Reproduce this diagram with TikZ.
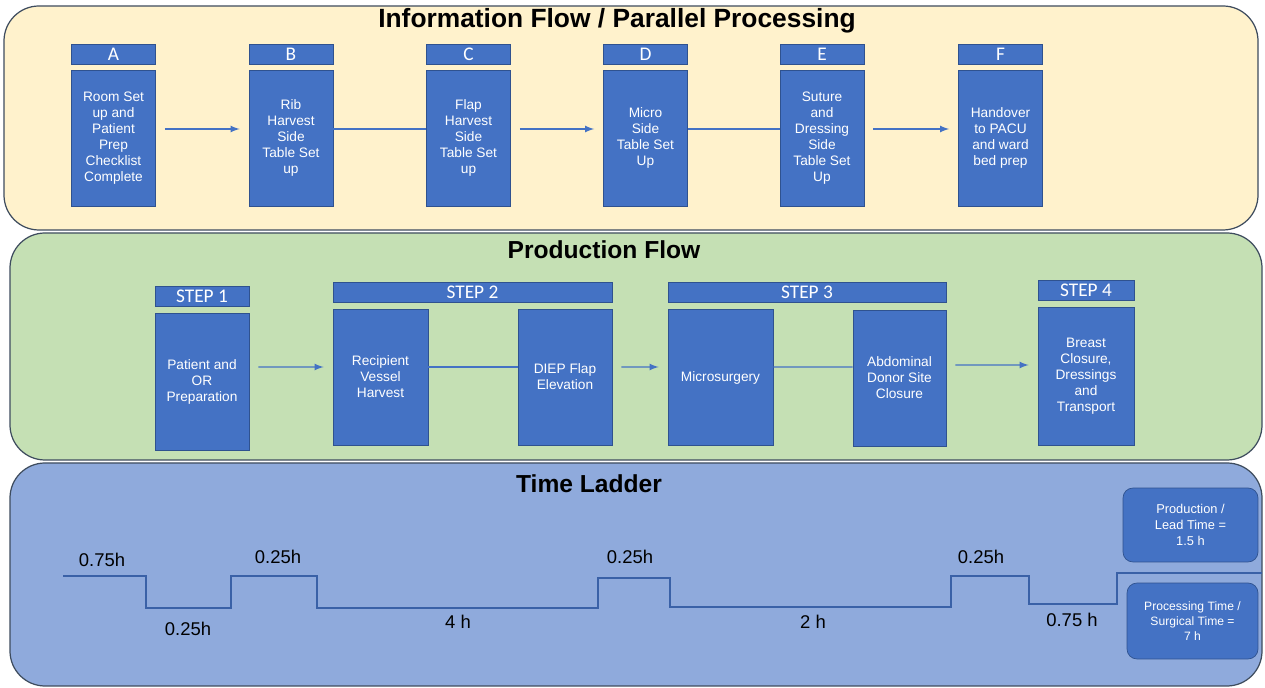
\documentclass[tikz,border=0pt]{standalone}
\usepackage{fontspec}
\usepackage{tikz}
\setmainfont{Liberation Sans}
\newfontfamily\calibri{Carlito}
\definecolor{infoback}{HTML}{FFF2CC}
\definecolor{prodback}{HTML}{C5E0B4}
\definecolor{timeback}{HTML}{8FAADC}
\definecolor{stepblue}{HTML}{4472C4}
\definecolor{stepedge}{HTML}{2F528F}
\definecolor{paneledge}{HTML}{3E4C5E}

\begin{document}
\begin{tikzpicture}[x=0.02cm, y=-0.02cm,
  panel/.style={draw=paneledge, line width=0.7pt, rounded corners=0.7cm},
  title/.style={font=\fontsize{14}{16}\selectfont\bfseries},
  head/.style={draw=stepedge, fill=stepblue, text=white, inner sep=0pt,
               minimum height=0.4cm, font=\calibri\fontsize{11}{12}\selectfont},
  task/.style={draw=stepedge, fill=stepblue, text=white, inner sep=1pt, align=center,
               minimum height=2.72cm, font=\fontsize{7.8}{9.1}\selectfont},
  arrow/.style={->, >=latex, draw=stepblue, line width=0.8pt,
                shorten <=0.18cm, shorten >=0.18cm},
  link/.style={draw=stepblue, line width=0.8pt},
  ladder/.style={draw=stepblue!85!black, line width=0.9pt},
  hours/.style={font=\fontsize{10.5}{12}\selectfont},
  total/.style={draw=stepedge, fill=stepblue, text=white, rounded corners=0.2cm,
                align=center, font=\fontsize{7.3}{9}\selectfont}
]
  \useasboundingbox (0,0) rectangle (1265,688);

  % Panels
  \fill[white] (0,0) rectangle (1265,688);
  \draw[panel, fill=infoback] (4,6) rectangle (1258,230);
  \draw[panel, fill=prodback] (10,233) rectangle (1262,460);
  \draw[panel, fill=timeback] (10,463) rectangle (1262,686);

  % Information Flow
  \node[title, font=\fontsize{15}{17}\selectfont\bfseries] (infotitle) at (617,21)
    {Information Flow / Parallel Processing};

  \node[head, minimum width=1.68cm] (hA) at (113.5,54.5) {A};
  \node[task, minimum width=1.68cm] (tA) at (113.5,138)
    {Room Set\\up and\\Patient\\Prep\\Checklist\\Complete};
  \node[head, minimum width=1.68cm] (hB) at (291,54.5) {B};
  \node[task, minimum width=1.68cm] (tB) at (291,138)
    {Rib\\Harvest\\Side\\Table Set\\up};
  \node[head, minimum width=1.68cm] (hC) at (468.5,54.5) {C};
  \node[task, minimum width=1.68cm] (tC) at (468.5,138)
    {Flap\\Harvest\\Side\\Table Set\\up};
  \node[head, minimum width=1.68cm] (hD) at (645.5,54.5) {D};
  \node[task, minimum width=1.68cm] (tD) at (645.5,138)
    {Micro\\Side\\Table Set\\Up};
  \node[head, minimum width=1.68cm] (hE) at (822,54.5) {E};
  \node[task, minimum width=1.68cm] (tE) at (822,138)
    {Suture\\and\\Dressing\\Side\\Table Set\\Up};
  \node[head, minimum width=1.68cm] (hF) at (1000.5,54.5) {F};
  \node[task, minimum width=1.68cm] (tF) at (1000.5,138)
    {Handover\\to PACU\\and ward\\bed prep};

  \draw[arrow] ([yshift=0.18cm]tA.east) -- ([yshift=0.18cm]tB.west);
  \draw[link] ([yshift=0.18cm]tB.east) -- ([yshift=0.18cm]tC.west);
  \draw[arrow] ([yshift=0.18cm]tC.east) -- ([yshift=0.18cm]tD.west);
  \draw[link] ([yshift=0.18cm]tD.east) -- ([yshift=0.18cm]tE.west);
  \draw[arrow] ([yshift=0.18cm]tE.east) -- ([yshift=0.18cm]tF.west);

  % Production Flow
  \node[title] (prodtitle) at (604,250) {Production Flow};

  \node[head, minimum width=1.88cm] (step1) at (202,296.5) {STEP 1};
  \node[task, minimum width=1.88cm, minimum height=2.74cm] (prep) at (202,381.5)
    {Patient and\\OR\\Preparation};
  \node[head, minimum width=5.58cm] (step2) at (472.5,292.5) {STEP 2};
  \node[task, minimum width=1.9cm] (vessel) at (380.5,377)
    {Recipient\\Vessel\\Harvest};
  \node[task, minimum width=1.88cm] (diep) at (565,377)
    {DIEP Flap\\Elevation};
  \node[head, minimum width=5.56cm] (step3) at (807,292.5) {STEP 3};
  \node[task, minimum width=2.1cm] (micro) at (720.5,377.5)
    {Microsurgery};
  \node[task, minimum width=1.86cm] (donor) at (899.5,378)
    {Abdominal\\Donor Site\\Closure};
  \node[head, minimum width=1.92cm] (step4) at (1086,290.5) {STEP 4};
  \node[task, minimum width=1.92cm, minimum height=2.76cm] (breast) at (1086,376)
    {Breast\\Closure,\\Dressings\\and\\Transport};

  \draw[arrow] ([yshift=0.29cm]prep.east) -- ([yshift=0.2cm]vessel.west);
  \draw[link] ([yshift=0.2cm]vessel.east) -- ([yshift=0.2cm]diep.west);
  \draw[arrow] ([yshift=0.2cm]diep.east) -- ([yshift=0.21cm]micro.west);
  \draw[link] ([yshift=0.21cm]micro.east) -- ([yshift=0.22cm]donor.west);
  \draw[arrow] ([yshift=0.26cm]donor.east) -- ([yshift=0.22cm]breast.west);

  % Time Ladder
  \node[title] (timetitle) at (589,484) {Time Ladder};

  \draw[ladder] (63,576) -- (146,576) -- (146,608) -- (231,608) -- (231,576)
    -- (317,576) -- (317,608) -- (598,608) -- (598,578) -- (670,578)
    -- (670,607) -- (951,607) -- (951,576) -- (1029,576) -- (1029,604)
    -- (1117,604) -- (1117,573) -- (1262,573);

  \node[hours] (t1) at (102,560) {0.75h};
  \node[hours] (t2) at (188,629) {0.25h};
  \node[hours] (t3) at (278,557) {0.25h};
  \node[hours] (t4) at (458,622) {4 h};
  \node[hours] (t5) at (630,557) {0.25h};
  \node[hours] (t6) at (813,622) {2 h};
  \node[hours] (t7) at (981,557) {0.25h};
  \node[hours] (t8) at (1072,620) {0.75 h};

  \node[total, minimum width=2.7cm, minimum height=1.48cm] (lead) at (1190.5,525)
    {Production /\\Lead Time =\\1.5 h};
  \node[total, minimum width=2.62cm, minimum height=1.52cm,
        font=\fontsize{6.9}{8.6}\selectfont] (surgical) at (1192.5,621)
    {Processing Time /\\Surgical Time =\\7 h};

\end{tikzpicture}
\end{document}
